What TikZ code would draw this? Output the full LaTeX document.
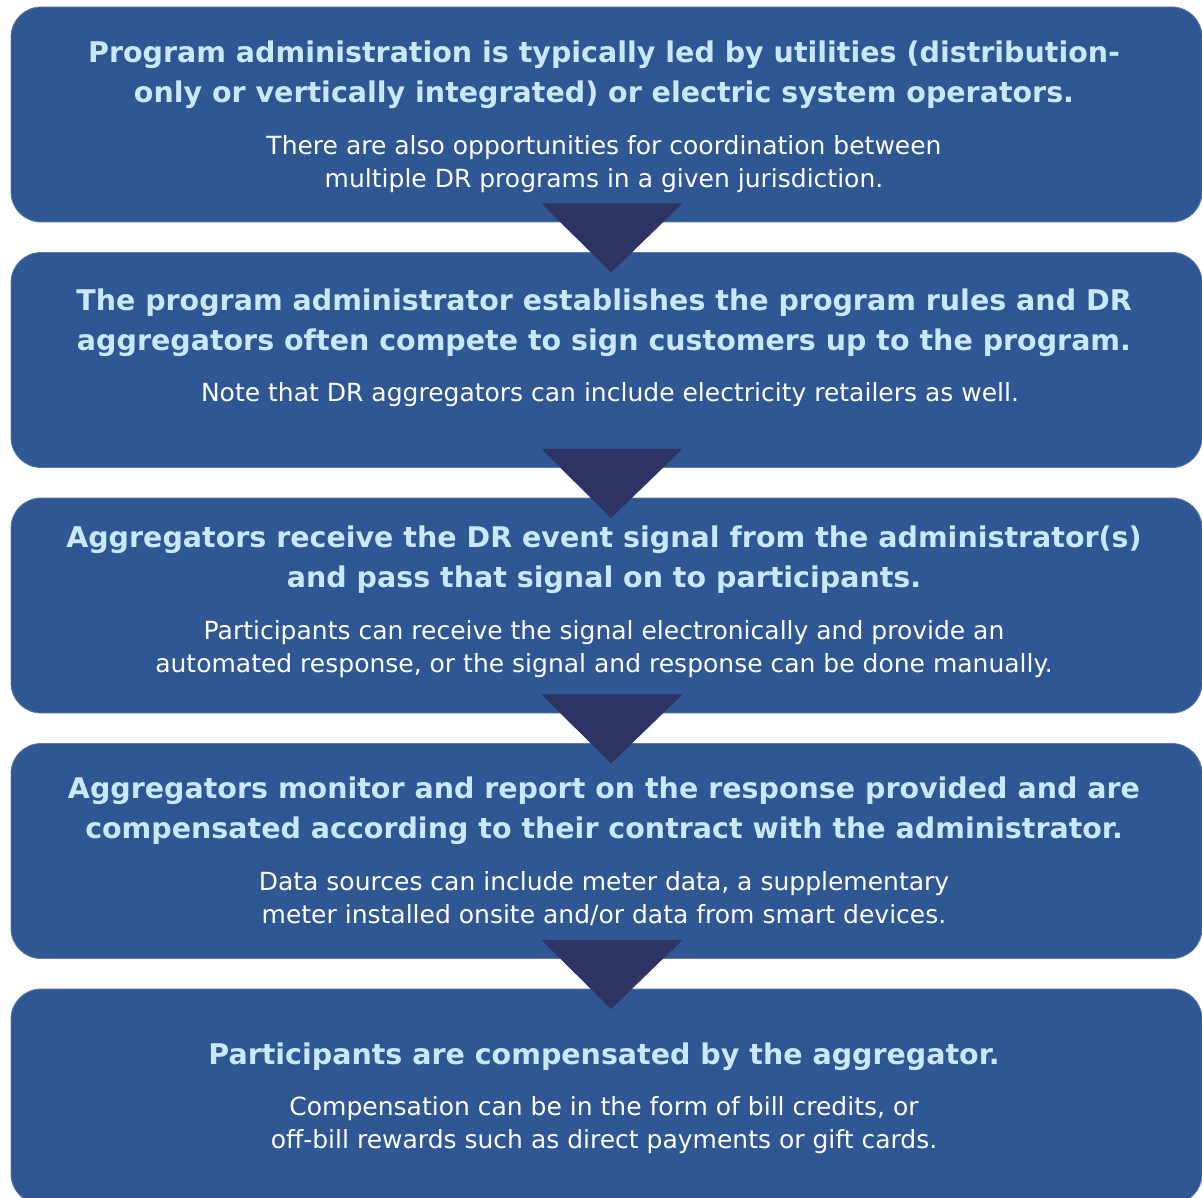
\documentclass[tikz,border=0pt]{standalone}
\usepackage{fontspec}
\setmainfont{DejaVu Sans}
\usetikzlibrary{calc}
\definecolor{boxblue}{HTML}{2F5794}
\definecolor{tri}{HTML}{2D3464}
\definecolor{ttl}{HTML}{C9E8FA}
\tikzset{
  stepbox/.style={rectangle, rounded corners=30pt, fill=boxblue, draw=boxblue!80!white, line width=0.8pt, minimum width=1191pt, minimum height=215pt, inner sep=0pt},
  ttltext/.style={text=ttl, font=\fontsize{28.5}{40}\selectfont\bfseries, align=center, inner sep=0pt},
  subtext/.style={text=white, font=\fontsize{25}{33}\selectfont, align=center, inner sep=0pt},
  arrowtri/.style={fill=tri, draw=none}
}
\begin{document}
\begin{tikzpicture}[x=1pt,y=-1pt]
\useasboundingbox (0,0) rectangle (1202,1198);
\begin{scope}
\clip (0,0) rectangle (1202,1198);
\node[stepbox] (b1) at (606.5,114.5) {};
\node[stepbox] (b2) at (606.5,360) {};
\node[stepbox] (b3) at (606.5,605.5) {};
\node[stepbox] (b4) at (606.5,851) {};
\node[stepbox] (b5) at (606.5,1096.5) {};
\end{scope}
% triangles
\foreach \a/\b in {b1/b2,b2/b3,b3/b4,b4/b5}{
  \fill[arrowtri] ($(\a.south)+(-65,-19)$) -- ($(\a.south)+(76,-19)$) -- ($(\b.north)+(4.5,20.5)$) -- cycle;
}
% texts
\node[ttltext] (t1) at (604,75) {Program administration is typically led by utilities (distribution-\\only or vertically integrated) or electric system operators.};
\node[subtext] (s1) at (604,164) {There are also opportunities for coordination between\\multiple DR programs in a given jurisdiction.};
\node[ttltext] (t2) at (604,323) {The program administrator establishes the program rules and DR\\aggregators often compete to sign customers up to the program.};
\node[subtext] (s2) at (610,394.5) {Note that DR aggregators can include electricity retailers as well.};
\node[ttltext] (t3) at (604,560) {Aggregators receive the DR event signal from the administrator(s)\\and pass that signal on to participants.};
\node[subtext] (s3) at (604,649) {Participants can receive the signal electronically and provide an\\automated response, or the signal and response can be done manually.};
\node[ttltext] (t4) at (604,811) {Aggregators monitor and report on the response provided and are\\compensated according to their contract with the administrator.};
\node[subtext] (s4) at (604,899) {Data sources can include meter data, a supplementary\\meter installed onsite and/or data from smart devices.};
\node[ttltext] (t5) at (604,1057) {Participants are compensated by the aggregator.};
\node[subtext] (s5) at (604,1125) {Compensation can be in the form of bill credits, or\\off-bill rewards such as direct payments or gift cards.};
\end{tikzpicture}
\end{document}
